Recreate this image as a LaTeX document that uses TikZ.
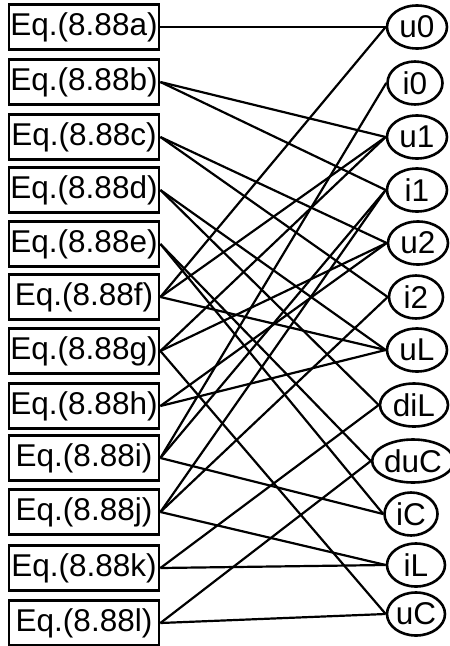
\documentclass[tikz,border=0pt]{standalone}
\usepackage{fontspec}
\setmainfont{Liberation Sans}
\usetikzlibrary{shapes.geometric}
\begin{document}
\begin{tikzpicture}[x=1pt,y=-1pt,
  eqbox/.style={draw, line width=2.8pt, rectangle, minimum width=150pt, minimum height=45pt, inner sep=0pt, font=\fontsize{31.5}{36}\selectfont},
  var/.style={draw, line width=2.6pt, ellipse, minimum height=43pt, inner sep=0pt, font=\fontsize{31.5}{36}\selectfont},
  link/.style={line width=2.2pt}]
\useasboundingbox (0,0) rectangle (450,646);
\fill[white] (0,0) rectangle (450,646);
% equations
\node[eqbox] (a) at (84,27)  {Eq.(8.88a)};
\node[eqbox] (b) at (84,82)  {Eq.(8.88b)};
\node[eqbox] (c) at (84,137) {Eq.(8.88c)};
\node[eqbox] (d) at (84,190) {Eq.(8.88d)};
\node[eqbox] (e) at (84,244) {Eq.(8.88e)};
\node[eqbox] (f) at (84,297) {Eq.(8.88f)};
\node[eqbox] (g) at (84,351) {Eq.(8.88g)};
\node[eqbox] (h) at (84,406) {Eq.(8.88h)};
\node[eqbox] (i) at (84,458) {Eq.(8.88i)};
\node[eqbox] (j) at (84,512) {Eq.(8.88j)};
\node[eqbox] (k) at (84,568) {Eq.(8.88k)};
\node[eqbox] (l) at (84,623) {Eq.(8.88l)};
% variables
\node[var, minimum width=60pt] (u0)  at (417,27)  {u0};
\node[var, minimum width=55pt] (i0)  at (415,83)  {i0};
\node[var, minimum width=60pt] (u1)  at (417,137) {u1};
\node[var, minimum width=60pt] (i1)  at (417,190) {i1};
\node[var, minimum width=60pt] (u2)  at (418,243) {u2};
\node[var, minimum width=54pt] (i2)  at (416,297) {i2};
\node[var, minimum width=60pt] (uL)  at (417,350) {uL};
\node[var, minimum width=68pt] (diL) at (414,405) {diL};
\node[var, minimum width=73pt] (duC) at (413,461) {duC};
\node[var, minimum width=53pt] (iC)  at (411,514) {iC};
\node[var, minimum width=58pt] (iL)  at (416,565) {iL};
\node[var, minimum width=58pt] (uC)  at (416,614) {uC};
% connectors
\foreach \s/\t in {a/u0, b/u1, b/i1, c/u2, c/i2, d/uL, d/diL, e/duC, e/iC,
  f/u0, f/u1, f/uL, g/u1, g/u2, g/uC, h/u2, h/uL, i/i0, i/i1, i/iC,
  j/i1, j/i2, j/iL, k/diL, k/iL, l/duC, l/uC}
  \draw[link] (\s.east) -- (\t.west);
\end{tikzpicture}
\end{document}
